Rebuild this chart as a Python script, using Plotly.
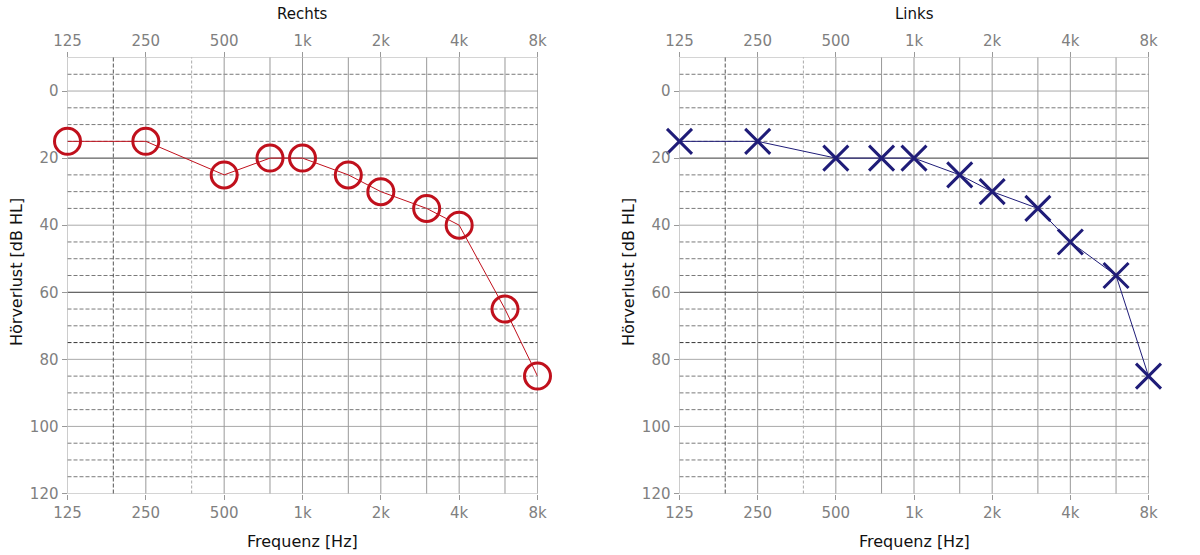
import math
import plotly.graph_objects as go

# ---- data ----
freqs = [125, 250, 500, 750, 1000, 1500, 2000, 3000, 4000, 6000, 8000]
rechts_db = [15, 15, 25, 20, 20, 25, 30, 35, 40, 65, 85]
links_db = [15, 15, 20, 20, 20, 25, 30, 35, 45, 55, 85]

x_tick_vals = [125, 250, 500, 1000, 2000, 4000, 8000]
x_tick_text = ["125", "250", "500", "1k", "2k", "4k", "8k"]
y_tick_vals = [0, 20, 40, 60, 80, 100, 120]
y_range = [-10, 120]

# grid definitions
v_solid = [125, 250, 500, 750, 1000, 1500, 2000, 3000, 4000, 6000]
v_dashed_dark = [187.5]
v_dashed_light = [375]
v_edge = [8000]
h_solid_light = [-10, 0, 40, 80, 100, 120]
h_solid_dark = [20, 60]
h_dashed_dark = [75]
h_dashed = [v for v in range(-5, 120, 5) if v not in h_solid_light + h_solid_dark + h_dashed_dark]

W, H = 1200, 555
left_px = [(67.5, 537.5), (679.5, 1148.5)]
top_px, bot_px = 57.5, 493.5

fig = go.Figure()

RED = "#c0101c"
NAVY = "#1f1c78"

fig.add_trace(go.Scatter(
    x=freqs, y=rechts_db, xaxis="x", yaxis="y", mode="lines+markers",
    line=dict(color=RED, width=1),
    marker=dict(symbol="circle-open", size=26, color=RED, line=dict(width=3, color=RED)),
    cliponaxis=False, showlegend=False, hoverinfo="skip"))
fig.add_trace(go.Scatter(
    x=freqs, y=links_db, xaxis="x2", yaxis="y2", mode="lines+markers",
    line=dict(color=NAVY, width=1),
    marker=dict(symbol="x-thin-open", size=25, color=NAVY, line=dict(width=3, color=NAVY)),
    cliponaxis=False, showlegend=False, hoverinfo="skip"))
# invisible traces to activate the top axes
fig.add_trace(go.Scatter(x=freqs, y=rechts_db, xaxis="x3", yaxis="y", mode="lines",
                         line=dict(width=0), opacity=0, showlegend=False, hoverinfo="skip"))
fig.add_trace(go.Scatter(x=freqs, y=links_db, xaxis="x4", yaxis="y2", mode="lines",
                         line=dict(width=0), opacity=0, showlegend=False, hoverinfo="skip"))

shapes = []
for xr, yr in (("x", "y"), ("x2", "y2")):
    def vline(v, color, dash, width=1):
        shapes.append(dict(type="line", xref=xr, yref=yr + " domain", x0=v, x1=v, y0=0, y1=1,
                           line=dict(color=color, width=width, dash=dash), layer="below"))

    def hline(v, color, dash, width=1):
        shapes.append(dict(type="line", xref=xr + " domain", yref=yr, x0=0, x1=1, y0=v, y1=v,
                           line=dict(color=color, width=width, dash=dash), layer="below"))
    for v in h_dashed:
        hline(v, "#7a7a7a", "4px,2px")
    for v in h_dashed_dark:
        hline(v, "#333333", "4px,2px")
    for v in h_solid_light:
        hline(v, "#aaaaaa", "solid")
    for v in h_solid_dark:
        hline(v, "#3a3a3a", "solid")
    for v in v_solid:
        vline(v, "#999999", "solid")
    for v in v_dashed_dark:
        vline(v, "#555555", "4px,2px")
    for v in v_dashed_light:
        vline(v, "#aaaaaa", "3px,2px")
    for v in v_edge:
        vline(v, "#666666", "solid")

tick_font = dict(family="DejaVu Sans", size=15, color="#808080")
xr_log = [math.log10(freqs[0]), math.log10(freqs[-1])]


def xaxis(domain, side="bottom", overlay=None, anchor="y"):
    d = dict(type="log", range=xr_log, domain=domain, tickvals=x_tick_vals, ticktext=x_tick_text,
             ticks="outside", ticklen=5, tickcolor="#999999", showgrid=False, zeroline=False,
             showline=False, tickfont=tick_font, side=side, anchor=anchor, fixedrange=True,
             automargin=False)
    if overlay:
        d["overlaying"] = overlay
    return d


def yaxis(domain, anchor):
    return dict(range=[y_range[1], y_range[0]], domain=domain, tickvals=y_tick_vals,
                ticks="outside", ticklen=5, tickcolor="#999999", showgrid=False, zeroline=False,
                showline=False, tickfont=tick_font, anchor=anchor, fixedrange=True,
                automargin=False)


xd1 = [left_px[0][0] / W, left_px[0][1] / W]
xd2 = [left_px[1][0] / W, left_px[1][1] / W]
yd = [1 - bot_px / H, 1 - top_px / H]

title_font = dict(family="DejaVu Sans", size=16, color="#111111")
annotations = []
for name, dom, ytx in (("Rechts", xd1, 16 / W), ("Links", xd2, 628 / W)):
    cx = (dom[0] + dom[1]) / 2
    annotations.append(dict(text=name, x=cx, y=1 - 14 / H, xref="paper", yref="paper",
                            showarrow=False, font=dict(family="DejaVu Sans", size=15, color="#111111"),
                            xanchor="center", yanchor="middle"))
    annotations.append(dict(text="Frequenz [Hz]", x=cx, y=1 - 541 / H, xref="paper", yref="paper",
                            showarrow=False, font=title_font, xanchor="center", yanchor="middle"))
    annotations.append(dict(text="Hörverlust [dB HL]", x=ytx, y=1 - 272 / H, xref="paper",
                            yref="paper", showarrow=False, font=title_font, textangle=-90,
                            xanchor="center", yanchor="middle"))

fig.update_layout(
    width=W, height=H, margin=dict(l=0, r=0, t=0, b=0),
    paper_bgcolor="white", plot_bgcolor="white",
    xaxis=xaxis(xd1, anchor="y"),
    xaxis2=xaxis(xd2, anchor="y2"),
    xaxis3=xaxis(xd1, side="top", overlay="x", anchor="y"),
    xaxis4=xaxis(xd2, side="top", overlay="x2", anchor="y2"),
    yaxis=yaxis(yd, "x"),
    yaxis2=yaxis(yd, "x2"),
    shapes=shapes, annotations=annotations, showlegend=False,
)

fig.write_html("out.html")
